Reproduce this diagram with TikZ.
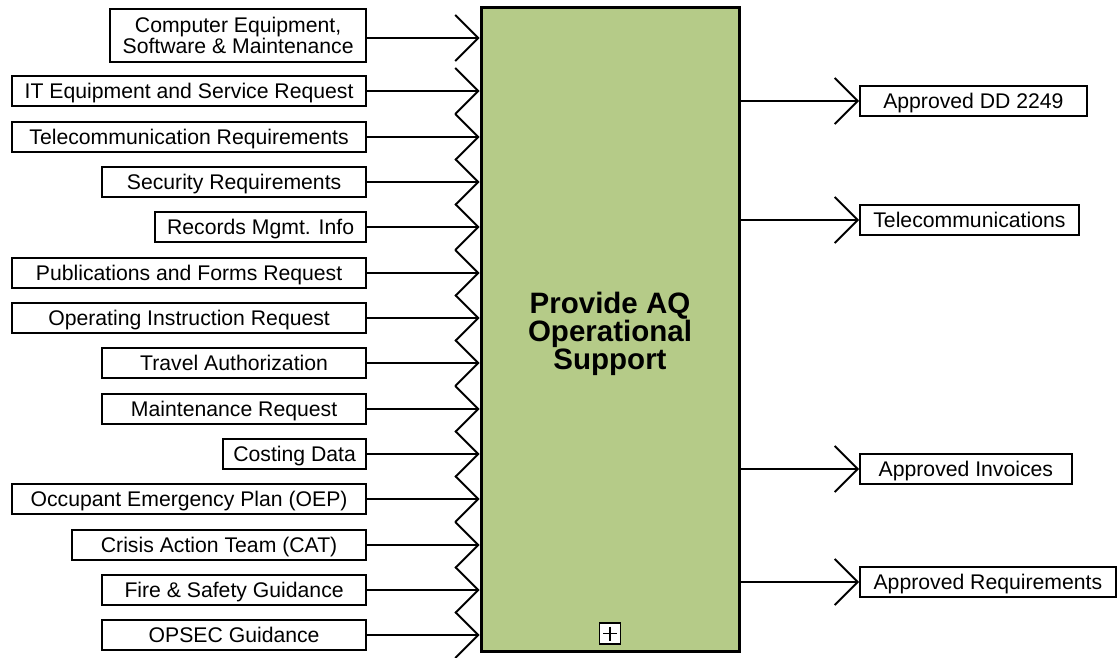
\documentclass[tikz,border=0pt]{standalone}
\usepackage{fontspec}
\setmainfont{Liberation Sans}
\usetikzlibrary{arrows.meta}
\definecolor{boxgreen}{HTML}{B5CB88}
\begin{document}
\begin{tikzpicture}[x=1pt,y=-1pt,
  lbl/.style={draw, line width=1.8pt, fill=white, anchor=east, minimum height=30pt, inner sep=0pt, font=\fontsize{21.2}{20}\selectfont, align=center},
  one/.style={text height=14.6pt, text depth=0pt},
  rbl/.style={draw, line width=1.8pt, fill=white, anchor=west, minimum height=30pt, inner sep=0pt, font=\fontsize{21.2}{20}\selectfont, align=center, one},
  arr/.style={line width=1.8pt, -{Straight Barb[length=23pt,width=46pt,line width=1.8pt]}}
]
\useasboundingbox (0,0) rectangle (1117,658);
\node[draw, line width=3pt, fill=boxgreen, minimum width=258pt, minimum height=643pt, inner sep=0pt] (main) at (610,329.5) {};
\node[font=\fontsize{29.5}{26}\selectfont\bfseries, align=center, inner sep=0pt] (title) at (610,334) {Provide AQ\\Operational\\Support};
\node[draw, line width=1.4pt, fill=white, minimum width=21pt, minimum height=21pt, inner sep=0pt] (plus) at (610,633.5) {};
\draw[line width=1.4pt] ([yshift=7pt]plus.center) -- ([yshift=-7pt]plus.center);
\draw[line width=1.4pt] ([xshift=-7pt]plus.center) -- ([xshift=7pt]plus.center);

% inputs
\node[lbl, minimum width=256pt, minimum height=53pt, font=\fontsize{21.2}{18}\selectfont] (i1) at (367,35.5) {Computer Equipment,\\Software \& Maintenance};
\node[lbl, one, minimum width=354pt] (i2) at (367,91) {IT Equipment and Service Request};
\node[lbl, one, minimum width=354pt] (i3) at (367,137) {Telecommunication Requirements};
\node[lbl, one, minimum width=264pt] (i4) at (367,182) {Security Requirements};
\node[lbl, one, minimum width=211pt] (i5) at (367,227) {Records Mgmt. Info};
\node[lbl, one, minimum width=354pt] (i6) at (367,273) {Publications and Forms Request};
\node[lbl, one, minimum width=354pt] (i7) at (367,318) {Operating Instruction Request};
\node[lbl, one, minimum width=264pt] (i8) at (367,363) {Travel Authorization};
\node[lbl, one, minimum width=264pt] (i9) at (367,409) {Maintenance Request};
\node[lbl, one, minimum width=143pt] (i10) at (367,454) {Costing Data};
\node[lbl, one, minimum width=354pt] (i11) at (367,499) {Occupant Emergency Plan (OEP)};
\node[lbl, one, minimum width=294pt] (i12) at (367,545) {Crisis Action Team (CAT)};
\node[lbl, one, minimum width=264pt] (i13) at (367,590) {Fire \& Safety Guidance};
\node[lbl, one, minimum width=264pt] (i14) at (367,635) {OPSEC Guidance};

\draw[arr] ([yshift=-2.5pt]i1.east) -- ([yshift=-2.5pt]i1.east -| main.west);
\foreach \i in {2,...,14}{
  \draw[arr] (i\i.east) -- (i\i.east -| main.west);
}

% outputs
\node[rbl, minimum width=227pt] (o1) at (859,101) {Approved DD 2249};
\node[rbl, minimum width=219pt] (o2) at (859,220) {Telecommunications};
\node[rbl, minimum width=212pt] (o3) at (859,469) {Approved Invoices};
\node[rbl, minimum width=256pt] (o4) at (859,582) {Approved Requirements};
\foreach \i in {1,...,4}{
  \draw[arr] (o\i.west -| main.east) -- (o\i.west);
}
\end{tikzpicture}
\end{document}
